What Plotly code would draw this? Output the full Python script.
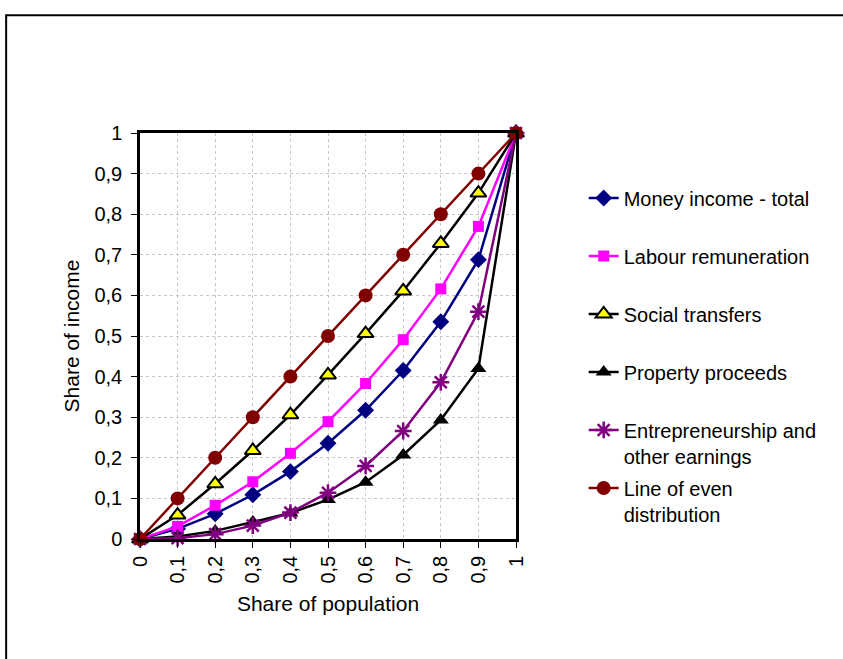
import plotly.graph_objects as go

# Share of population (deciles)
population = [0, 0.1, 0.2, 0.3, 0.4, 0.5, 0.6, 0.7, 0.8, 0.9, 1]

# Cumulative shares of income by source
money_income_total = [0, 0.025, 0.062, 0.109, 0.166, 0.236, 0.317, 0.415, 0.535, 0.688, 1]
labour_remuneration = [0, 0.031, 0.083, 0.141, 0.211, 0.289, 0.383, 0.491, 0.616, 0.770, 1]
social_transfers = [0, 0.059, 0.136, 0.218, 0.306, 0.404, 0.506, 0.611, 0.728, 0.852, 1]
property_proceeds = [0, 0.006, 0.020, 0.042, 0.064, 0.097, 0.140, 0.207, 0.293, 0.420, 1]
entrepreneurship = [0, 0.002, 0.012, 0.033, 0.065, 0.114, 0.180, 0.266, 0.386, 0.560, 1]
even_distribution = [0, 0.1, 0.2, 0.3, 0.4, 0.5, 0.6, 0.7, 0.8, 0.9, 1]

series_names = [
    "Money income - total",
    "Labour remuneration",
    "Social transfers",
    "Property proceeds",
    "Entrepreneurship and<br>other earnings",
    "Line of even<br>distribution",
]

tick_values = [0, 0.1, 0.2, 0.3, 0.4, 0.5, 0.6, 0.7, 0.8, 0.9, 1]
tick_labels = ["0", "0,1", "0,2", "0,3", "0,4", "0,5", "0,6", "0,7", "0,8", "0,9", "1"]

FONT = "Liberation Sans, Arial, sans-serif"

styles = [
    dict(line=dict(color="#000080", width=2.5),
         marker=dict(symbol="diamond", size=13, color="#000080")),
    dict(line=dict(color="#FF00FF", width=2.5),
         marker=dict(symbol="square", size=11, color="#FF00FF")),
    dict(line=dict(color="#000000", width=2.5),
         marker=dict(symbol="triangle-up", size=14, color="#FFFF00",
                     line=dict(color="#000000", width=2))),
    dict(line=dict(color="#000000", width=2.5),
         marker=dict(symbol="triangle-up", size=14, color="#000000")),
    dict(line=dict(color="#800080", width=2.5),
         marker=dict(symbol="asterisk-open", size=14, color="#800080",
                     line=dict(color="#800080", width=2.5))),
    dict(line=dict(color="#800000", width=2.5),
         marker=dict(symbol="circle", size=14, color="#800000")),
]

series_values = [
    money_income_total,
    labour_remuneration,
    social_transfers,
    property_proceeds,
    entrepreneurship,
    even_distribution,
]

fig = go.Figure()
for i, (name, vals, st) in enumerate(zip(series_names, series_values, styles)):
    # pad single-line names so every legend entry has the same height
    label = name if "<br>" in name else name + "<br> "
    fig.add_trace(go.Scatter(
        x=population, y=vals, name=label, mode="lines+markers",
        legendgroup=f"g{i}", cliponaxis=False, **st,
    ))

axis_common = dict(
    range=[0, 1],
    tickvals=tick_values,
    ticktext=tick_labels,
    showgrid=True,
    gridcolor="#c8c8c8",
    griddash="dot",
    gridwidth=1,
    showline=True,
    linecolor="#000000",
    linewidth=2.5,
    mirror=True,
    ticks="outside",
    ticklen=6,
    tickwidth=1,
    tickcolor="#000000",
    zeroline=False,
    tickfont=dict(family=FONT, size=20, color="#000000"),
)

fig.update_xaxes(
    **axis_common,
    tickangle=-90,
    title=dict(text="Share of population", standoff=14,
               font=dict(family=FONT, size=21, color="#000000")),
)
fig.update_yaxes(
    **axis_common,
    ticklabelstandoff=5,
    title=dict(text="Share of income", standoff=10,
               font=dict(family=FONT, size=21, color="#000000")),
)

# outer frame of the chart area
fig.add_shape(type="rect", xref="paper", yref="paper",
              x0=-0.356, x1=2.0, y0=-0.5, y1=1.29,
              line=dict(color="#000000", width=2), fillcolor="rgba(0,0,0,0)",
              layer="below")

fig.update_layout(
    width=843,
    height=659,
    margin=dict(l=140, r=327, t=133, b=120, autoexpand=False),
    paper_bgcolor="#ffffff",
    plot_bgcolor="#ffffff",
    font=dict(family=FONT, size=20, color="#000000"),
    showlegend=True,
    legend=dict(
        x=1.18, xanchor="left",
        y=0.888, yanchor="top",
        valign="top",
        tracegroupgap=3,
        font=dict(family=FONT, size=20, color="#000000"),
        bgcolor="rgba(0,0,0,0)",
        borderwidth=0,
    ),
)

fig.write_html("out.html")
